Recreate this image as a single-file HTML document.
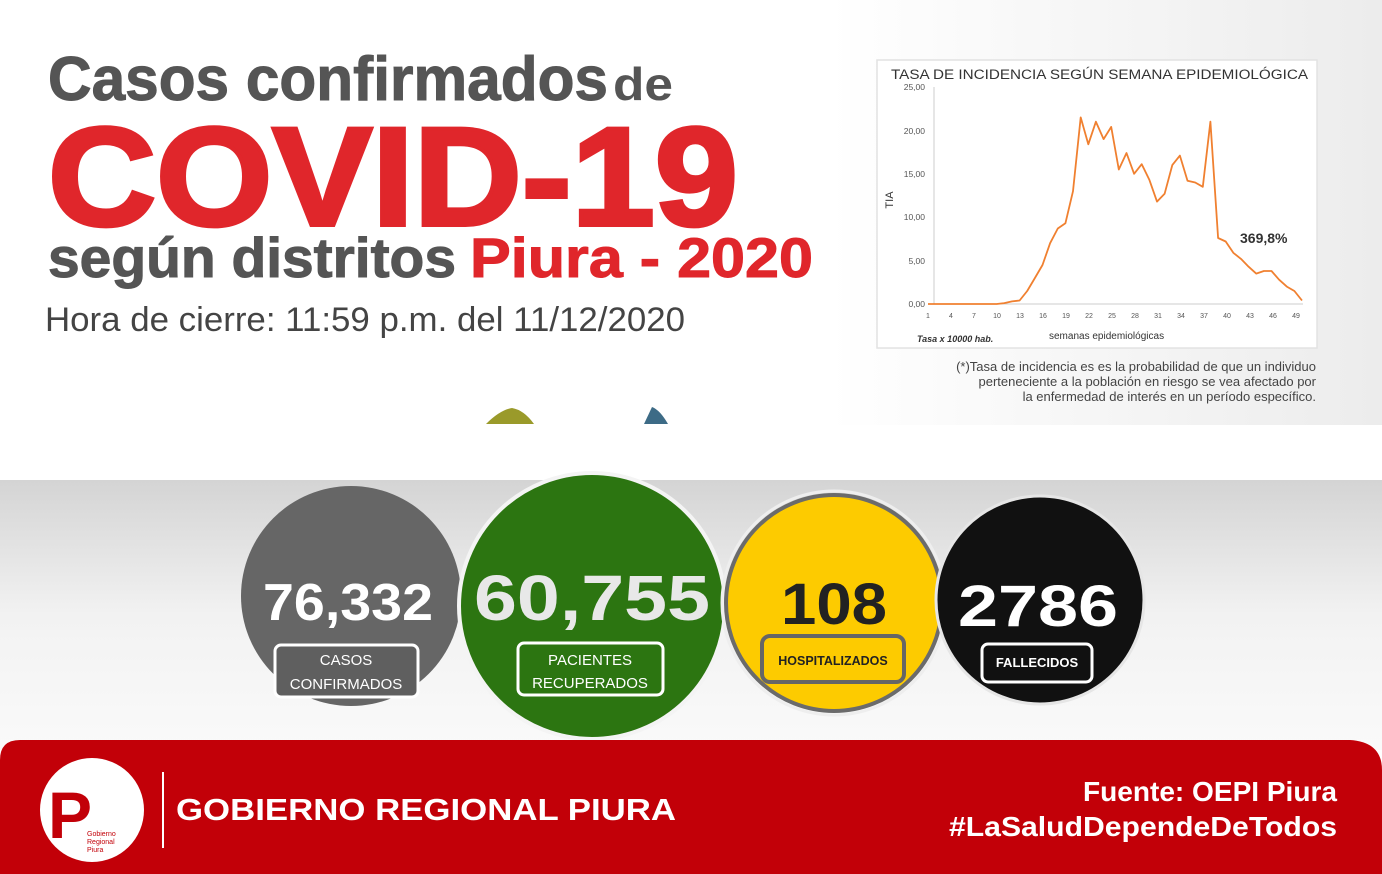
<!DOCTYPE html>
<html><head><meta charset="utf-8"><style>
html,body{margin:0;padding:0;background:#fff;}
svg{display:block;font-family:"Liberation Sans",sans-serif;}
</style></head><body>
<svg width="1382" height="874" viewBox="0 0 1382 874" xmlns="http://www.w3.org/2000/svg">
<defs>
<linearGradient id="bg" x1="0" y1="0" x2="0" y2="1">
<stop offset="0" stop-color="#d4d4d4"/><stop offset="0.5" stop-color="#f2f2f2"/><stop offset="1" stop-color="#fafafa"/>
</linearGradient>
<linearGradient id="tg" x1="0" y1="0" x2="1" y2="0">
<stop offset="0" stop-color="#fff"/><stop offset="0.6" stop-color="#fff"/><stop offset="1" stop-color="#ececec"/>
</linearGradient>
</defs>
<rect width="1382" height="874" fill="#fff"/>
<rect x="0" y="0" width="1382" height="425" fill="url(#tg)"/>
<rect x="0" y="480" width="1382" height="270" fill="url(#bg)"/>

<!-- Titles -->
<text x="48" y="100" font-size="62" font-weight="bold" fill="#555" stroke="#555" stroke-width="1" textLength="560" lengthAdjust="spacingAndGlyphs">Casos confirmados</text>
<text x="613" y="100" font-size="46" font-weight="bold" fill="#555" textLength="60" lengthAdjust="spacingAndGlyphs">de</text>
<text x="48" y="225" font-size="140" font-weight="bold" fill="#e0262b" stroke="#e0262b" stroke-width="4" textLength="690" lengthAdjust="spacingAndGlyphs">COVID-19</text>
<text x="48" y="277" font-size="56" font-weight="bold" fill="#555" stroke="#555" stroke-width="1" textLength="408" lengthAdjust="spacingAndGlyphs">según distritos</text>
<text x="470" y="277" font-size="56" font-weight="bold" fill="#e0262b" stroke="#e0262b" stroke-width="1" textLength="343" lengthAdjust="spacingAndGlyphs">Piura - 2020</text>
<text x="45" y="331" font-size="34" fill="#444" textLength="640" lengthAdjust="spacingAndGlyphs">Hora de cierre: 11:59 p.m. del 11/12/2020</text>

<!-- small shapes -->
<path d="M486 424 Q500 410 512 408 Q524 410 534 424Z" fill="#9a9a2a"/>
<path d="M644 424 L652 407 Q660 410 668 424Z" fill="#3d6b86"/>

<!-- Chart -->
<rect x="877" y="60" width="440" height="288" fill="#fff" stroke="#e2e2e2" stroke-width="1.5"/>
<text x="891" y="79" font-size="13.5" fill="#333" textLength="417" lengthAdjust="spacingAndGlyphs">TASA DE INCIDENCIA SEGÚN SEMANA EPIDEMIOLÓGICA</text>
<g font-size="8.5" fill="#555" text-anchor="end">
<text x="925" y="90">25,00</text><text x="925" y="134">20,00</text><text x="925" y="177">15,00</text>
<text x="925" y="220">10,00</text><text x="925" y="264">5,00</text><text x="925" y="307">0,00</text>
</g>
<line x1="934" y1="87" x2="934" y2="304" stroke="#ccc"/>
<line x1="928" y1="304" x2="1303" y2="304" stroke="#ccc"/>
<g font-size="7" fill="#555" text-anchor="middle">
<text x="928" y="318">1</text><text x="951" y="318">4</text><text x="974" y="318">7</text><text x="997" y="318">10</text>
<text x="1020" y="318">13</text><text x="1043" y="318">16</text><text x="1066" y="318">19</text><text x="1089" y="318">22</text>
<text x="1112" y="318">25</text><text x="1135" y="318">28</text><text x="1158" y="318">31</text><text x="1181" y="318">34</text>
<text x="1204" y="318">37</text><text x="1227" y="318">40</text><text x="1250" y="318">43</text><text x="1273" y="318">46</text><text x="1296" y="318">49</text>
</g>
<text x="893" y="200" font-size="11" fill="#333" transform="rotate(-90 893 200)" text-anchor="middle">TIA</text>
<text x="917" y="342" font-size="9" font-style="italic" font-weight="bold" fill="#333">Tasa x 10000 hab.</text>
<text x="1049" y="339" font-size="10" fill="#333">semanas epidemiológicas</text>
<text x="1240" y="243" font-size="14" font-weight="bold" fill="#333">369,8%</text>
<polyline fill="none" stroke="#f08030" stroke-width="1.8" stroke-linejoin="round" points="
928,304 935.6,304 943.3,304 950.9,304 958.5,304 966.2,304 973.8,304 981.4,304 989.1,304 996.7,304
1004.3,303.1 1012,301.4 1019.6,300.5 1027.2,291 1034.9,278 1042.5,265 1050.1,243.2 1057.8,228.5 1065.4,223.3 1073,191.2
1080.7,117.4 1088.3,144.3 1095.9,121.7 1103.6,139.1 1111.2,126.9 1118.8,169.5 1126.5,153 1134.1,173.8 1141.7,164.2 1149.4,179.9
1157,201.6 1164.6,193.8 1172.3,165.1 1179.9,155.6 1187.5,180.7 1195.2,182.5 1202.8,186.8 1210.4,121.7 1218.1,238 1225.7,241.5
1233.3,252.8 1241,258.9 1248.6,266.7 1256.2,273.6 1263.9,271 1271.5,271 1279.1,279.7 1286.8,286.6 1294.4,291 1302,300.5"/>
<g font-size="13" fill="#444" text-anchor="end">
<text x="1316" y="371">(*)Tasa de incidencia es es la probabilidad de que un individuo</text>
<text x="1316" y="386">perteneciente a la población en riesgo se vea afectado por</text>
<text x="1316" y="401">la enfermedad de interés en un período específico.</text>
</g>

<!-- circles -->
<ellipse cx="351" cy="596" rx="110" ry="110" fill="#666"/>
<circle cx="592" cy="606" r="133" fill="#2c7511" stroke="#f4f4f4" stroke-width="4"/>
<circle cx="834" cy="603" r="108" fill="#fdcb00" stroke="#6b6b6b" stroke-width="4"/>
<circle cx="834" cy="603" r="112" fill="none" stroke="#eee" stroke-width="3"/>
<circle cx="1040" cy="600" r="104" fill="#111" stroke="#e6e6e6" stroke-width="3"/>

<g font-weight="bold" text-anchor="middle">
<text x="348" y="620" font-size="52" fill="#fff" textLength="170" lengthAdjust="spacingAndGlyphs">76,332</text>
<text x="592" y="620" font-size="64" fill="#e8e8e8" textLength="236" lengthAdjust="spacingAndGlyphs">60,755</text>
<text x="834" y="624" font-size="58" fill="#222" textLength="106" lengthAdjust="spacingAndGlyphs">108</text>
<text x="1038" y="626" font-size="58" fill="#fff" textLength="160" lengthAdjust="spacingAndGlyphs">2786</text>
</g>
<rect x="275" y="645" width="143" height="52" rx="6" fill="#5f5f5f" stroke="#fff" stroke-width="3"/>
<text x="346" y="665" font-size="15" fill="#fff" text-anchor="middle">CASOS</text>
<text x="346" y="689" font-size="15" fill="#fff" text-anchor="middle">CONFIRMADOS</text>
<rect x="518" y="643" width="145" height="52" rx="6" fill="#2c7511" stroke="#fff" stroke-width="3"/>
<text x="590" y="665" font-size="15" fill="#fff" text-anchor="middle">PACIENTES</text>
<text x="590" y="688" font-size="15" fill="#fff" text-anchor="middle">RECUPERADOS</text>
<rect x="762" y="636" width="142" height="46" rx="8" fill="#fdcb00" stroke="#666" stroke-width="4"/>
<text x="833" y="665" font-size="12.5" font-weight="bold" fill="#222" text-anchor="middle">HOSPITALIZADOS</text>
<rect x="982" y="644" width="110" height="38" rx="6" fill="#111" stroke="#fff" stroke-width="3"/>
<text x="1037" y="667" font-size="13" font-weight="bold" fill="#fff" text-anchor="middle">FALLECIDOS</text>

<!-- footer -->
<path d="M0 760 Q0 740 20 740 L1350 740 Q1382 742 1382 770 L1382 874 L0 874Z" fill="#c20008"/>
<circle cx="92" cy="810" r="52" fill="#fff"/>
<text x="70" y="838" font-size="66" font-weight="bold" fill="#c20008" text-anchor="middle">P</text>
<text x="87" y="836" font-size="7" fill="#c20008">Gobierno</text>
<text x="87" y="844" font-size="7" fill="#c20008">Regional</text>
<text x="87" y="852" font-size="7" fill="#c20008">Piura</text>
<line x1="163" y1="772" x2="163" y2="848" stroke="#fff" stroke-width="2"/>
<text x="176" y="820" font-size="31" font-weight="bold" fill="#fff" textLength="500" lengthAdjust="spacingAndGlyphs">GOBIERNO REGIONAL PIURA</text>
<text x="1337" y="801" font-size="28" font-weight="bold" fill="#fff" text-anchor="end" textLength="254" lengthAdjust="spacingAndGlyphs">Fuente: OEPI Piura</text>
<text x="1337" y="836" font-size="28" font-weight="bold" fill="#fff" text-anchor="end" textLength="388" lengthAdjust="spacingAndGlyphs">#LaSaludDependeDeTodos</text>
</svg>
</body></html>
